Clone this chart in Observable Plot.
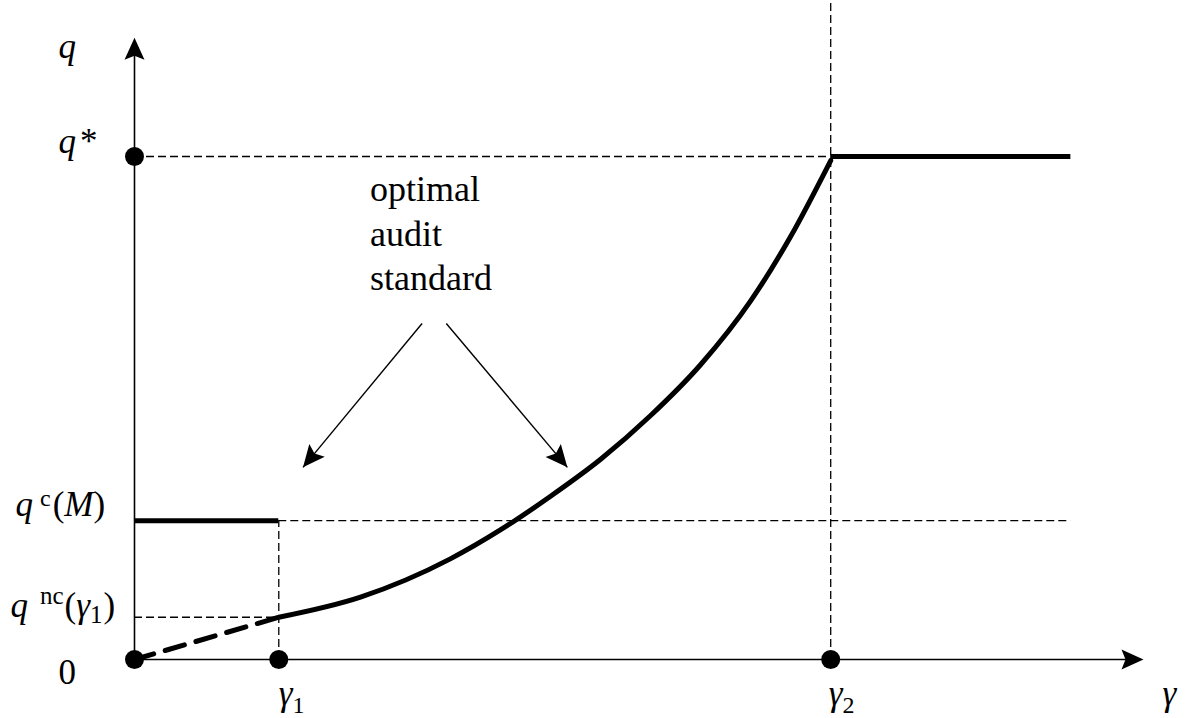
<!DOCTYPE html>
<html><head><meta charset="utf-8">
<script src="https://cdn.jsdelivr.net/npm/d3@7"></script>
<script src="https://cdn.jsdelivr.net/npm/@observablehq/plot@0.6"></script>
<style>html,body{margin:0;padding:0;background:#fff;} #chart svg{display:block}</style>
</head><body><div id="chart"></div>
<script>
// ---- values (arbitrary units) ----
const gamma1 = 1.43, gamma2 = 6.90, gammaEnd = 9.28, gammaAxisEnd = 10;
const qStar = 5.0, qC = 1.38, qNC = 0.42, qAxisEnd = 6.18, qTop = 6.55;
// optimal audit standard between gamma1 and gamma2
const curveGamma = [1.43, 2.24, 3.13, 3.63, 4.12, 4.62, 5.11, 5.61, 6.11, 6.50, 6.90];
const curveQ     = [0.42, 0.62, 1.00, 1.29, 1.62, 1.99, 2.42, 2.93, 3.57, 4.20, 4.96];
// q^nc below gamma1 (dashed)
const lowGamma = [0, gamma1];
const lowQ = [0, qNC];
// marked points
const pointGamma = [0, gamma1, gamma2, 0];
const pointQ = [0, 0, 0, qStar];
// annotation
const annotationText = "optimal\naudit\nstandard";
const arrowFromGamma = [2.85, 3.09];
const arrowFromQ = [3.34, 3.34];
const arrowToGamma = [1.67, 4.29];
const arrowToQ = [1.91, 1.91];
// labels
const yTickValues = [0, qNC, qC, qStar];
const yTickLabels = ["0", "qnc(γ1)", "qc(M)", "q*"];
const xTickValues = [gamma1, gamma2];
const xTickLabels = ["γ1", "γ2"];
const yAxisLabel = "q", xAxisLabel = "γ";

// ---- scales ----
const xOpts = {domain: [0, 10], range: [134, 1143]};
const yOpts = {domain: [0, 5], range: [659, 156]};
const xs = Plot.scale({x: xOpts});
const ys = Plot.scale({y: yOpts});

function headSymbol(fx, fy, tx, ty) {
  const dx = xs.apply(tx) - xs.apply(fx), dy = ys.apply(ty) - ys.apply(fy);
  const L = Math.hypot(dx, dy), ux = dx / L, uy = dy / L, px = -uy, py = ux;
  const len = 22, hw = 10, notch = 4;
  return {draw(ctx) {
    ctx.moveTo(0, 0);
    ctx.lineTo(-ux * len + px * hw, -uy * len + py * hw);
    ctx.lineTo(-ux * (len - notch), -uy * (len - notch));
    ctx.lineTo(-ux * len - px * hw, -uy * len - py * hw);
    ctx.closePath();
  }};
}
function head(fx, fy, tx, ty) {
  return Plot.dot([{x: tx, y: ty}], {x: "x", y: "y", r: 10, fill: "black", symbol: headSymbol(fx, fy, tx, ty)});
}
const FONT = "Liberation Serif";
function label(t, x, y, dx, dy) {
  return Plot.text([{t, x, y}], {x: "x", y: "y", text: "t", dx, dy, textAnchor: "start", lineAnchor: "bottom",
    fontSize: 35, fontFamily: FONT, fill: "black"});
}

const curve = curveGamma.map((g, i) => ({g, q: curveQ[i]}));
const low = lowGamma.map((g, i) => ({g, q: lowQ[i]}));
const pts = pointGamma.map((g, i) => ({g, q: pointQ[i]}));
const arrows = arrowFromGamma.map((g, i) => ({x1: g, y1: arrowFromQ[i], x2: arrowToGamma[i], y2: arrowToQ[i]}));

const thin = {stroke: "black", strokeWidth: 1.3, strokeDasharray: "8,4"};
const marks = [
  // dashed guides
  Plot.ruleY([qStar], {x1: 0, x2: gamma2, ...thin}),
  Plot.ruleX([gamma2], {y1: 0, y2: qTop, ...thin}),
  Plot.ruleY([qC], {x1: gamma1, x2: gammaEnd, ...thin}),
  Plot.ruleX([gamma1], {y1: 0, y2: qC, ...thin}),
  Plot.ruleY([qNC], {x1: 0, x2: gamma1, ...thin}),
  // axes
  Plot.ruleY([0], {x1: 0, x2: gammaAxisEnd - 0.1, stroke: "black", strokeWidth: 1.6}),
  Plot.ruleX([0], {y1: 0, y2: qAxisEnd - 0.1, stroke: "black", strokeWidth: 1.6}),
  head(0, 0, gammaAxisEnd, 0),
  head(0, 0, 0, qAxisEnd),
  // thick segments
  Plot.ruleY([qC], {x1: 0, x2: gamma1, stroke: "black", strokeWidth: 5}),
  Plot.ruleY([qStar], {x1: gamma2, x2: gammaEnd, stroke: "black", strokeWidth: 5}),
  Plot.line(curve, {x: "g", y: "q", curve: "monotone-x", stroke: "black", strokeWidth: 5}),
  Plot.line(low, {x: "g", y: "q", stroke: "black", strokeWidth: 5, strokeDasharray: "20,12"}),
  // points
  Plot.dot(pts, {x: "g", y: "q", r: 9.5, fill: "black"}),
  // annotation arrows
  Plot.link(arrows, {x1: "x1", y1: "y1", x2: "x2", y2: "y2", stroke: "black", strokeWidth: 1.4}),
  ...arrows.map(a => head(a.x1, a.y1, a.x2, a.y2)),
  Plot.text([annotationText], {x: arrowFromGamma[0], y: arrowFromQ[0], text: d => d, dx: -52, dy: -33,
    textAnchor: "start", lineAnchor: "bottom", lineHeight: 1.24, fontSize: 36, fontFamily: FONT, fill: "black"}),
  // labels
  label(yAxisLabel, 0, qAxisEnd, -76, 20),
  label(yTickLabels[0], 0, yTickValues[0], -76, 24),
  label(yTickLabels[1], 0, yTickValues[1], -124, 0),
  label(yTickLabels[2], 0, yTickValues[2], -119, -5),
  label(yTickLabels[3], 0, yTickValues[3], -76, -4),
  label(xTickLabels[0], xTickValues[0], 0, 0, 45),
  label(xTickLabels[1], xTickValues[1], 0, -2, 45),
  label(xAxisLabel, gammaAxisEnd, 0, 19, 45)
];

const plot = Plot.plot({
  width: 1187, height: 718, margin: 0,
  x: {...xOpts, axis: null},
  y: {...yOpts, axis: null},
  style: {background: "white", fontFamily: FONT},
  marks
});

const rich = {
  "q": '<tspan font-style="italic">q</tspan>',
  "q*": '<tspan font-style="italic">q</tspan><tspan dx="4">*</tspan>',
  "qc(M)": '<tspan font-style="italic">q</tspan><tspan dx="7" dy="-10" font-size="24">c</tspan><tspan dy="10" dx="2">(</tspan><tspan font-style="italic">M</tspan><tspan>)</tspan>',
  "qnc(γ1)": '<tspan font-style="italic">q</tspan><tspan dx="12" dy="-13" font-size="25">nc</tspan><tspan dy="13" dx="1">(</tspan><tspan font-style="italic">γ</tspan><tspan font-size="25" dy="6">1</tspan><tspan dy="-6" dx="1">)</tspan>',
  "γ1": '<tspan font-style="italic">γ</tspan><tspan font-size="24" dy="8">1</tspan>',
  "γ2": '<tspan font-style="italic">γ</tspan><tspan font-size="24" dy="8">2</tspan>',
  "γ": '<tspan font-style="italic">γ</tspan>'
};
plot.querySelectorAll("text").forEach(t => {
  const k = t.textContent;
  if (t.children.length === 0 && rich[k] !== undefined) t.innerHTML = rich[k];
});
document.getElementById("chart").appendChild(plot);
</script>
</body></html>
